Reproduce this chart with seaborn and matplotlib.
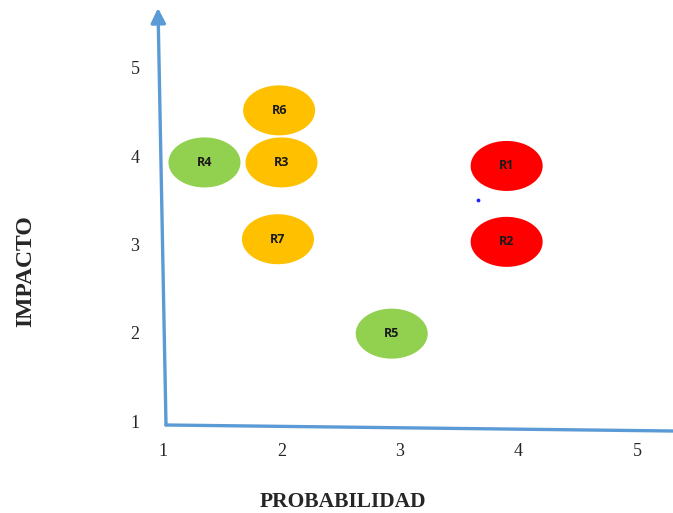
"""
Risk matrix: probabilidad vs impacto, one ellipse per risk.
"""

import numpy as np
import pandas as pd
import matplotlib
matplotlib.use('Agg')
import matplotlib.pyplot as plt
from matplotlib.path import Path
import seaborn as sns

# Data
riesgos = ['R1', 'R2', 'R3', 'R4', 'R5', 'R6', 'R7']
probabilidad = [3.90, 3.90, 2.00, 1.35, 2.93, 1.98, 1.97]
impacto = [3.89, 3.03, 3.93, 3.93, 1.99, 4.52, 3.06]
nivel = ['Alto', 'Alto', 'Medio', 'Bajo', 'Bajo', 'Medio', 'Medio']
ticks = [1, 2, 3, 4, 5]

colores = {'Alto': '#FF0000', 'Medio': '#FFC000', 'Bajo': '#92D050'}
AXIS_BLUE = '#5B9BD5'

df = pd.DataFrame({'riesgo': riesgos, 'probabilidad': probabilidad,
                   'impacto': impacto, 'nivel': nivel})

# Ellipse-shaped marker (wider than tall)
theta = np.linspace(0, 2 * np.pi, 80)
verts = np.column_stack([np.cos(theta), np.sin(theta) * 50 / 72])
ellipse = Path(verts, closed=True)

sns.set_style('white')
plt.rcParams['font.family'] = ['Liberation Serif', 'DejaVu Serif']

fig = plt.figure(figsize=(6.73, 5.13), dpi=100)
ax = fig.add_axes([163 / 673, 88 / 513, 510 / 673, 417 / 513])

sns.scatterplot(data=df, x='probabilidad', y='impacto', hue='nivel',
                palette=colores, marker=ellipse, s=2690, linewidth=0,
                legend=False, ax=ax, zorder=3)

for _, row in df.iterrows():
    ax.text(row['probabilidad'], row['impacto'], row['riesgo'],
            ha='center', va='center', fontsize=9, fontweight='bold',
            family=['Open Sans', 'DejaVu Sans'], color='#1a1a1a', zorder=4)

# stray blue dot present in the original
ax.scatter([3.66], [3.50], s=3, color='#2020ff', zorder=4)

ax.set_xlim(1, 1 + 510 / 118.5)
ax.set_ylim(1 - 4 / 88.25, 1 + 413 / 88.25)
ax.set_xticks(ticks)
ax.set_yticks(ticks)
ax.tick_params(axis='both', length=0, labelsize=13)
ax.tick_params(axis='x', pad=13)
ax.tick_params(axis='y', pad=17)
for s in ax.spines.values():
    s.set_visible(False)

# hand-drawn looking axes arrows
ax.annotate('', xy=(-5 / 510, 1.0), xytext=(3 / 510, 0.0),
            xycoords='axes fraction', textcoords='axes fraction',
            arrowprops=dict(arrowstyle='-|>', color=AXIS_BLUE, lw=2.4,
                            mutation_scale=22, shrinkA=0, shrinkB=0),
            annotation_clip=False)
ax.annotate('', xy=(1.0, -6 / 417), xytext=(3 / 510, 0.0),
            xycoords='axes fraction', textcoords='axes fraction',
            arrowprops=dict(arrowstyle='-', color=AXIS_BLUE, lw=2.4,
                            shrinkA=0, shrinkB=0),
            annotation_clip=False)

ax.set_xlabel('PROBABILIDAD', fontsize=15.5, fontweight='bold')
ax.set_ylabel('IMPACTO', fontsize=17, fontweight='bold')
ax.xaxis.set_label_coords((343 - 163) / 510, -67 / 417)
ax.yaxis.set_label_coords((36 - 163) / 510, (425 - 271) / 417)

fig.savefig('out.png', dpi=100)
